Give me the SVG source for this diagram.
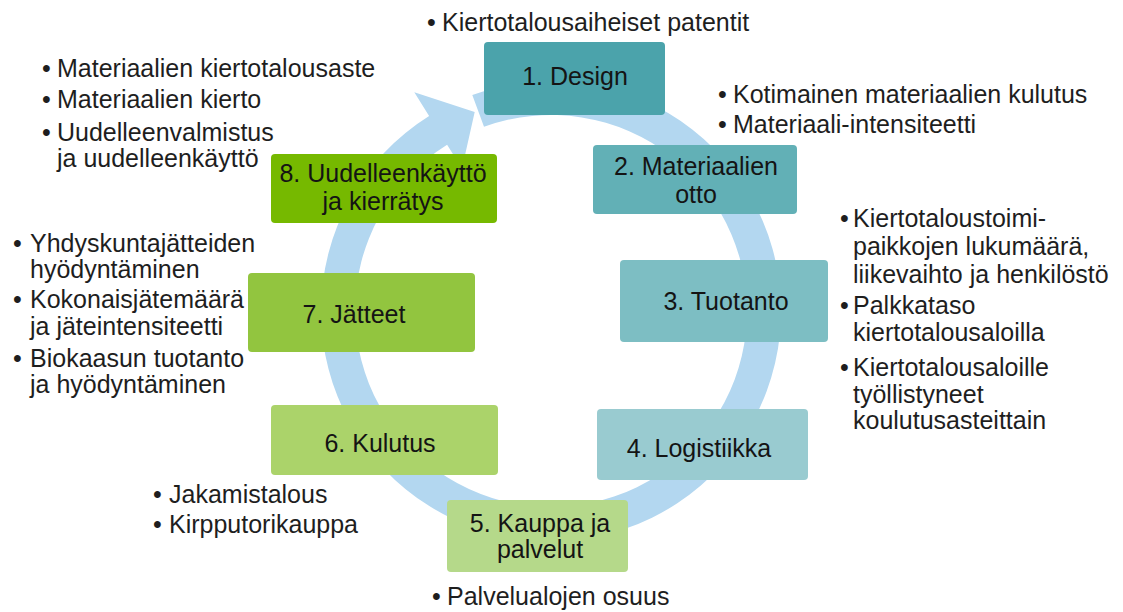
<svg xmlns="http://www.w3.org/2000/svg" width="1123" height="612" viewBox="0 0 1123 612">
<style>
.bx{stroke:none}
.lbl{font-family:"Liberation Sans",Arial,sans-serif;font-size:25px;fill:#141414;text-anchor:middle}
.bt{font-family:"Liberation Sans",Arial,sans-serif;font-size:25px;fill:#1e1e1e}
</style>
<rect width="1123" height="612" fill="#ffffff"/>
<g id="connectors">
<path d="M 472.3,94.9 A 230 230 0 1 1 429.1,116.0 L 414.3,92.2 L 474.7,112.1 L 462.0,168.5 L 447.1,144.8 A 196 196 0 1 0 484.0,126.8 Z" fill="#b3d7f0"/>
</g>
<g id="n1"><rect class="bx" x="484" y="42" width="181" height="73" rx="4" fill="#4ba3ab"/><text class="lbl" x="575" y="85">1. Design</text></g>
<g id="n2"><rect class="bx" x="593" y="145" width="204" height="69" rx="4" fill="#62b0b6"/><text class="lbl" x="696" y="175">2. Materiaalien</text><text class="lbl" x="696" y="203">otto</text></g>
<g id="n3"><rect class="bx" x="620" y="260" width="208" height="82" rx="4" fill="#7dbec3"/><text class="lbl" x="726" y="310">3. Tuotanto</text></g>
<g id="n4"><rect class="bx" x="597" y="409" width="211" height="71" rx="4" fill="#99cbd0"/><text class="lbl" x="699" y="457">4. Logistiikka</text></g>
<g id="n5"><rect class="bx" x="447" y="500" width="181" height="72" rx="4" fill="#b5d98a"/><text class="lbl" x="540" y="532">5. Kauppa ja</text><text class="lbl" x="540" y="558">palvelut</text></g>
<g id="n6"><rect class="bx" x="271" y="405" width="227" height="70" rx="4" fill="#abd36a"/><text class="lbl" x="380" y="452">6. Kulutus</text></g>
<g id="n7"><rect class="bx" x="248" y="273" width="227" height="79" rx="4" fill="#92c53f"/><text class="lbl" x="354" y="323">7. Jätteet</text></g>
<g id="n8"><rect class="bx" x="271" y="154" width="226" height="69" rx="4" fill="#76b900"/><text class="lbl" x="383" y="182">8. Uudelleenkäyttö</text><text class="lbl" x="383" y="210">ja kierrätys</text></g>
<g id="t-top"><text class="bt" x="427" y="31">•</text><text class="bt" x="442" y="31">Kiertotalousaiheiset patentit</text></g>
<g id="t-topright"><text class="bt" x="718" y="103">•</text><text class="bt" x="733" y="103">Kotimainen materiaalien kulutus</text><text class="bt" x="718" y="133">•</text><text class="bt" x="733" y="133">Materiaali-intensiteetti</text></g>
<g id="t-right">
<text class="bt" x="840" y="227">•</text><text class="bt" x="853" y="227">Kiertotaloustoimi-</text>
<text class="bt" x="853" y="255">paikkojen lukumäärä,</text>
<text class="bt" x="853" y="283">liikevaihto ja henkilöstö</text>
<text class="bt" x="840" y="314">•</text><text class="bt" x="853" y="314">Palkkataso</text>
<text class="bt" x="853" y="341">kiertotalousaloilla</text>
<text class="bt" x="840" y="376">•</text><text class="bt" x="853" y="376">Kiertotalousaloille</text>
<text class="bt" x="853" y="403">työllistyneet</text>
<text class="bt" x="853" y="429">koulutusasteittain</text>
</g>
<g id="t-lefttop">
<text class="bt" x="42" y="77">•</text><text class="bt" x="57" y="77">Materiaalien kiertotalousaste</text>
<text class="bt" x="42" y="108">•</text><text class="bt" x="57" y="108">Materiaalien kierto</text>
<text class="bt" x="42" y="141">•</text><text class="bt" x="57" y="141">Uudelleenvalmistus</text>
<text class="bt" x="57" y="167">ja uudelleenkäyttö</text>
</g>
<g id="t-leftmid">
<text class="bt" x="13" y="252">•</text><text class="bt" x="30" y="252">Yhdyskuntajätteiden</text>
<text class="bt" x="30" y="278">hyödyntäminen</text>
<text class="bt" x="13" y="308">•</text><text class="bt" x="30" y="308">Kokonaisjätemäärä</text>
<text class="bt" x="30" y="335">ja jäteintensiteetti</text>
<text class="bt" x="13" y="367">•</text><text class="bt" x="30" y="367">Biokaasun tuotanto</text>
<text class="bt" x="30" y="393">ja hyödyntäminen</text>
</g>
<g id="t-bottomleft">
<text class="bt" x="153" y="503">•</text><text class="bt" x="169" y="503">Jakamistalous</text>
<text class="bt" x="153" y="533">•</text><text class="bt" x="169" y="533">Kirpputorikauppa</text>
</g>
<g id="t-bottom"><text class="bt" x="432" y="605">•</text><text class="bt" x="447" y="605">Palvelualojen osuus</text></g>
</svg>
